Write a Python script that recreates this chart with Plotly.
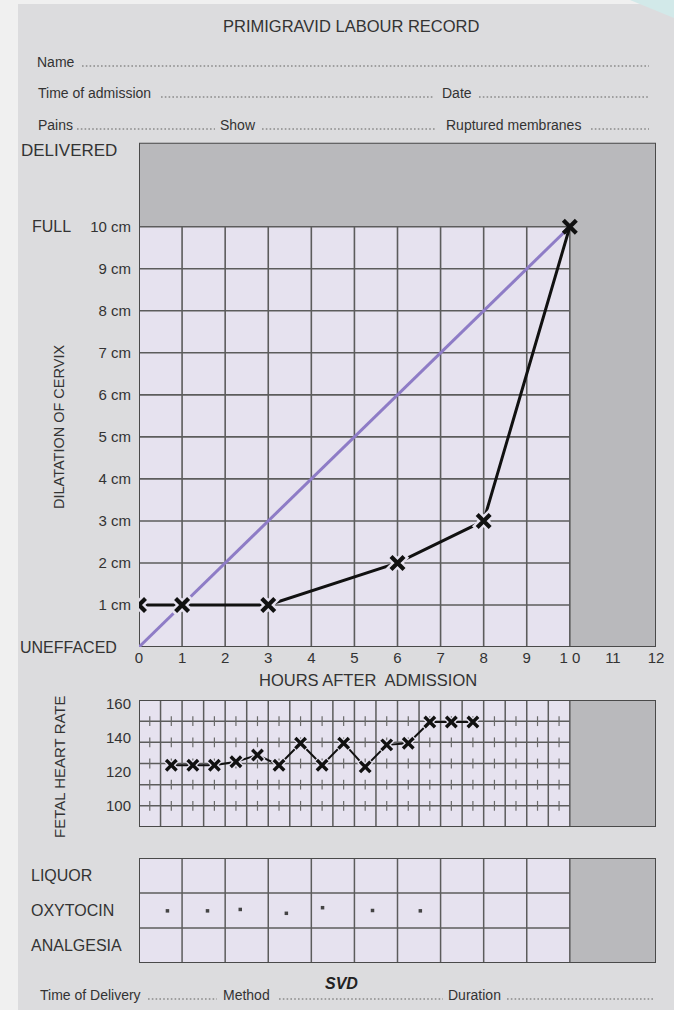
import plotly.graph_objects as go

# ---------------- data ----------------
hour_ticks = list(range(13))
hour_labels = ["0", "1", "2", "3", "4", "5", "6", "7", "8", "9", "1 0", "11", "12"]
cm_ticks = [1, 2, 3, 4, 5, 6, 7, 8, 9, 10]
cm_labels = ["1 cm", "2 cm", "3 cm", "4 cm", "5 cm", "6 cm", "7 cm", "8 cm", "9 cm", "10 cm"]

alert_hours = [0, 10]
alert_cm = [0, 10]

dilation_hours = [0, 1, 3, 6, 8, 10]
dilation_cm = [1, 1, 1, 2, 3, 10]

fhr_ticks = [100, 120, 140, 160]
fhr_lines = [100, 112.5, 125, 137.5, 150]
fhr_hours = [0.75, 1.25, 1.75, 2.25, 2.75, 3.25, 3.75, 4.25, 4.75, 5.25, 5.75, 6.25, 6.75, 7.25, 7.75]
fhr_bpm = [124, 124, 124, 126, 130, 124, 137, 124, 137, 123, 136, 137, 149.5, 149.5, 149.5]

table_rows = ["LIQUOR", "OXYTOCIN", "ANALGESIA"]
oxytocin_hours = [0.66, 1.59, 2.35, 3.42, 4.26, 5.42, 6.53]
oxytocin_pos = [1.49, 1.49, 1.53, 1.42, 1.58, 1.50, 1.49]

# ---------------- style ----------------
W, H = 674, 1010
FONT = "Liberation Sans Narrow, Liberation Sans, Arial, sans-serif"
TXT = "#333333"
FORM = "#dcdcde"
LAV = "#e6e2ef"
GRAY = "#b9b9bc"
GRID = "#5c5c5c"
BORDER = "#4a4a4a"
PURPLE = "#8e7cc6"


def px(x):
    return x / W


def py(y):
    return 1 - y / H


X0, X1 = 139, 656
fig = go.Figure()

# main chart traces
fig.add_trace(go.Scatter(x=alert_hours, y=alert_cm, mode="lines",
                         line=dict(color=PURPLE, width=3), xaxis="x", yaxis="y",
                         hoverinfo="skip"))
fig.add_trace(go.Scatter(x=dilation_hours, y=dilation_cm, mode="lines",
                         line=dict(color="#111111", width=3), xaxis="x", yaxis="y"))
halo_cols = [LAV] * (len(dilation_hours) - 1) + ["rgba(0,0,0,0)"]
fig.add_trace(go.Scatter(x=dilation_hours, y=dilation_cm, mode="markers",
                         marker=dict(symbol="x-thin", size=17,
                                     line=dict(color=halo_cols, width=9)),
                         xaxis="x", yaxis="y", hoverinfo="skip"))
fig.add_trace(go.Scatter(x=dilation_hours, y=dilation_cm, mode="markers",
                         marker=dict(symbol="x-thin", size=13, color="#111111",
                                     line=dict(color="#111111", width=4.2)),
                         xaxis="x", yaxis="y"))

# FHR ticks on horizontal lines (quarter hours)
tick_x, tick_y = [], []
for v in fhr_lines:
    for k in range(20):
        tick_x.append(0.25 + 0.5 * k)
        tick_y.append(v)
fig.add_trace(go.Scatter(x=tick_x, y=tick_y, mode="markers",
                         marker=dict(symbol="line-ns", size=7,
                                     line=dict(color="#6a6a6a", width=1.2)),
                         xaxis="x2", yaxis="y2", hoverinfo="skip"))
fig.add_trace(go.Scatter(x=fhr_hours, y=fhr_bpm, mode="lines",
                         line=dict(color="#111111", width=2), xaxis="x2", yaxis="y2"))
fig.add_trace(go.Scatter(x=fhr_hours, y=fhr_bpm, mode="markers",
                         marker=dict(symbol="x-thin", size=12,
                                     line=dict(color=LAV, width=6)),
                         xaxis="x2", yaxis="y2", hoverinfo="skip"))
fig.add_trace(go.Scatter(x=fhr_hours, y=fhr_bpm, mode="markers",
                         marker=dict(symbol="x-thin", size=10.5, color="#111111",
                                     line=dict(color="#111111", width=3.4)),
                         xaxis="x2", yaxis="y2"))

# oxytocin marks
fig.add_trace(go.Scatter(x=oxytocin_hours, y=oxytocin_pos, mode="markers",
                         marker=dict(symbol="square", size=3.5, color="#444444"),
                         xaxis="x3", yaxis="y3"))

shapes = []
# background details
shapes.append(dict(type="rect", xref="paper", yref="paper", x0=0, x1=px(18), y0=0, y1=1,
                   fillcolor="#f0f0f0", line=dict(width=0), layer="below"))
shapes.append(dict(type="rect", xref="paper", yref="paper", x0=0, x1=1, y0=py(4), y1=1,
                   fillcolor="#f0f0f0", line=dict(width=0), layer="below"))
shapes.append(dict(type="path", xref="paper", yref="paper",
                   path=f"M {px(630)} {py(0)} L {px(674)} {py(0)} L {px(674)} {py(18)} Z",
                   fillcolor="#d2e9e9", line=dict(width=0), layer="below"))

# main panel
shapes.append(dict(type="rect", xref="x", yref="y", x0=0, x1=12, y0=0, y1=12,
                   fillcolor=GRAY, line=dict(width=0), layer="below"))
shapes.append(dict(type="rect", xref="x", yref="y", x0=0, x1=10, y0=0, y1=10,
                   fillcolor=LAV, line=dict(width=0), layer="below"))
for h in hour_ticks[1:11]:
    shapes.append(dict(type="line", xref="x", yref="y", x0=h, x1=h, y0=0, y1=10,
                       line=dict(color=GRID, width=1.6), layer="below"))
for c in cm_ticks:
    shapes.append(dict(type="line", xref="x", yref="y", x0=0, x1=10, y0=c, y1=c,
                       line=dict(color=GRID, width=1.6), layer="below"))
shapes.append(dict(type="rect", xref="x", yref="y", x0=0, x1=12, y0=0, y1=12,
                   line=dict(color=BORDER, width=2), layer="below"))

# FHR panel
shapes.append(dict(type="rect", xref="x2", yref="y2", x0=0, x1=12, y0=87.5, y1=162.5,
                   fillcolor=GRAY, line=dict(width=0), layer="below"))
shapes.append(dict(type="rect", xref="x2", yref="y2", x0=0, x1=10, y0=87.5, y1=162.5,
                   fillcolor=LAV, line=dict(width=0), layer="below"))
for k in range(1, 21):
    h = 0.5 * k
    shapes.append(dict(type="line", xref="x2", yref="y2", x0=h, x1=h, y0=87.5, y1=162.5,
                       line=dict(color=GRID, width=1.5), layer="below"))
for v in fhr_lines:
    shapes.append(dict(type="line", xref="x2", yref="y2", x0=0, x1=10, y0=v, y1=v,
                       line=dict(color=GRID, width=1.5), layer="below"))
shapes.append(dict(type="rect", xref="x2", yref="y2", x0=0, x1=12, y0=87.5, y1=162.5,
                   line=dict(color=BORDER, width=2), layer="below"))

# table panel
shapes.append(dict(type="rect", xref="x3", yref="y3", x0=0, x1=12, y0=0, y1=3,
                   fillcolor=GRAY, line=dict(width=0), layer="below"))
shapes.append(dict(type="rect", xref="x3", yref="y3", x0=0, x1=10, y0=0, y1=3,
                   fillcolor=LAV, line=dict(width=0), layer="below"))
for h in hour_ticks[1:11]:
    shapes.append(dict(type="line", xref="x3", yref="y3", x0=h, x1=h, y0=0, y1=3,
                       line=dict(color=GRID, width=1.5), layer="below"))
for r in [1, 2]:
    shapes.append(dict(type="line", xref="x3", yref="y3", x0=0, x1=10, y0=r, y1=r,
                       line=dict(color=GRID, width=1.5), layer="below"))
shapes.append(dict(type="rect", xref="x3", yref="y3", x0=0, x1=12, y0=0, y1=3,
                   line=dict(color=BORDER, width=2), layer="below"))

# dotted leaders
DOTC = "#8a8a8a"


def dots(x0, x1, y):
    shapes.append(dict(type="line", xref="paper", yref="paper", x0=px(x0), x1=px(x1),
                       y0=py(y), y1=py(y), line=dict(color=DOTC, width=1.6, dash="1.6px,2.2px")))


dots(82, 649, 66)
dots(161, 434, 97)
dots(479, 649, 97)
dots(77, 215, 129)
dots(262, 436, 129)
dots(591, 649, 129)
dots(148, 217, 999)
dots(279, 443, 999)
dots(507, 653, 999)

annotations = []


def label(text, x, y, size, anchor="left", angle=0, bold=False, italic=False, color=TXT):
    t = text
    if bold:
        t = "<b>" + t + "</b>"
    if italic:
        t = "<i>" + t + "</i>"
    annotations.append(dict(text=t, x=px(x), y=py(y),
                            xref="paper", yref="paper", xanchor=anchor, yanchor="middle",
                            showarrow=False, textangle=angle, borderpad=0,
                            font=dict(family=FONT, size=size, color=color)))


label("PRIMIGRAVID LABOUR RECORD", 351, 26, 16.5, anchor="center")
label("Name", 36, 62, 14)
label("Time of admission", 37, 93, 14)
label("Date", 441, 93, 14)
label("Pains", 37, 125, 14)
label("Show", 219, 125, 14)
label("Ruptured membranes", 445, 125, 14)
label("DELIVERED", 20, 150, 17)
label("FULL", 31, 227, 16)
label("UNEFFACED", 19, 647, 16)
label("DILATATION OF CERVIX", 59, 427, 14.5, anchor="center", angle=-90)
label("HOURS AFTER  ADMISSION", 368, 680, 16.5, anchor="center")
label("FETAL HEART RATE", 59, 767, 15, anchor="center", angle=-90)
for name, pos in zip(table_rows, [2.5, 1.5, 0.5]):
    annotations.append(dict(text=name, x=px(30), y=pos, xref="paper", yref="y3",
                            xanchor="left", yanchor="middle", showarrow=False, borderpad=0,
                            font=dict(family=FONT, size=16, color=TXT)))
label("Time of Delivery", 39, 995, 14)
label("Method", 222, 995, 14)
label("Duration", 447, 995, 14)
label("SVD", 341, 983, 16, anchor="center", bold=True, italic=True, color="#222222")

axis_common = dict(showgrid=False, zeroline=False, showline=False, ticks="",
                   automargin=False,
                   tickfont=dict(family=FONT, size=15, color=TXT), fixedrange=True)

fig.update_layout(
    width=W, height=H, autosize=False,
    margin=dict(l=0, r=0, t=0, b=0, pad=0, autoexpand=False),
    paper_bgcolor=FORM, plot_bgcolor="rgba(0,0,0,0)",
    showlegend=False,
    font=dict(family=FONT, color=TXT),
    shapes=shapes, annotations=annotations,
    xaxis=dict(domain=[px(X0), px(X1)], range=[0, 12], anchor="y",
               tickvals=hour_ticks, ticktext=hour_labels, **axis_common),
    yaxis=dict(domain=[py(647), py(142.7)], range=[0, 12], anchor="x",
               tickvals=cm_ticks, ticktext=cm_labels, ticklabelstandoff=7, **axis_common),
    xaxis2=dict(domain=[px(X0), px(X1)], range=[0, 12], anchor="y2",
                showticklabels=False, **axis_common),
    yaxis2=dict(domain=[py(827), py(700)], range=[87.5, 162.5], anchor="x2",
                tickvals=fhr_ticks, ticklabelstandoff=7, **axis_common),
    xaxis3=dict(domain=[px(X0), px(X1)], range=[0, 12], anchor="y3",
                showticklabels=False, **axis_common),
    yaxis3=dict(domain=[py(963), py(858)], range=[0, 3], anchor="x3",
                showticklabels=False, **axis_common),
)

post = (
    "var s=document.documentElement.style;s.margin='0';s.padding='0';s.overflow='hidden';"
    "var b=document.body.style;b.margin='0';b.padding='0';b.overflow='hidden';"
)
fig.write_html("out.html", config={"displayModeBar": False, "responsive": False},
               post_script=post)
